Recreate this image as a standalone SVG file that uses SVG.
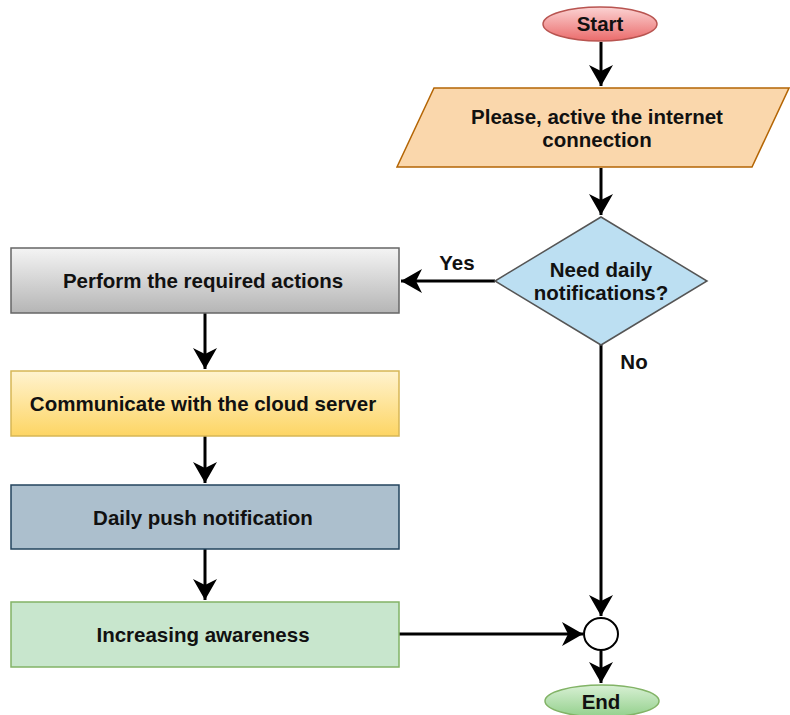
<svg xmlns="http://www.w3.org/2000/svg" width="790" height="715" viewBox="0 0 790 715">
<style>
text{font-family:"Liberation Sans",Arial,sans-serif;font-weight:bold;font-size:20.5px;fill:#111;text-anchor:middle}
.c{fill:none;stroke:#000;stroke-width:3}
</style>
<defs>
<marker id="ah" markerWidth="8" markerHeight="8" refX="7" refY="4" orient="auto" markerUnits="strokeWidth">
<path d="M0,0 L7,4 L0,8 L2,4 Z" fill="#000"/>
</marker>
<linearGradient id="gGray" x1="0" y1="0" x2="0" y2="1"><stop offset="0" stop-color="#f4f4f4"/><stop offset="1" stop-color="#b5b5b5"/></linearGradient>
<linearGradient id="gYel" x1="0" y1="0" x2="0" y2="1"><stop offset="0" stop-color="#fff3cf"/><stop offset="1" stop-color="#fdd564"/></linearGradient>
<linearGradient id="gRed" x1="0" y1="0" x2="0" y2="1"><stop offset="0" stop-color="#fbd3d3"/><stop offset="1" stop-color="#ea6b6b"/></linearGradient>
<linearGradient id="gGrn" x1="0" y1="0" x2="0" y2="1"><stop offset="0" stop-color="#d8f0d4"/><stop offset="1" stop-color="#93d08c"/></linearGradient>
</defs>
<rect width="790" height="715" fill="#fff"/>
<g id="connectors">
<path class="c" d="M601,42 V86" marker-end="url(#ah)"/>
<path class="c" d="M601,168 V215" marker-end="url(#ah)"/>
<path class="c" d="M495,281 H401" marker-end="url(#ah)"/>
<path class="c" d="M601,345 V616" marker-end="url(#ah)"/>
<path class="c" d="M205,313 V369" marker-end="url(#ah)"/>
<path class="c" d="M205,436 V483" marker-end="url(#ah)"/>
<path class="c" d="M205,549 V600" marker-end="url(#ah)"/>
<path class="c" d="M399,634 H583" marker-end="url(#ah)"/>
<path class="c" d="M601,651 V683" marker-end="url(#ah)"/>
<text x="457" y="270">Yes</text>
<text x="634" y="369">No</text>
</g>
<g id="start">
<ellipse cx="600" cy="24" rx="57" ry="17" fill="url(#gRed)" stroke="#b85450" stroke-width="1.5"/>
<text x="600" y="31">Start</text>
</g>
<g id="internet">
<polygon points="434,88 789,88 752,167 397,167" fill="#fad7ac" stroke="#b46504" stroke-width="1.5"/>
<text x="597" y="124">Please, active the internet</text>
<text x="597" y="147">connection</text>
</g>
<g id="decision">
<polygon points="601,217 707,281 601,345 495,281" fill="#bcdff2" stroke="#555" stroke-width="1.5"/>
<text x="601" y="277">Need daily</text>
<text x="601" y="300">notifications?</text>
</g>
<g id="perform">
<rect x="11" y="248" width="388" height="65" fill="url(#gGray)" stroke="#666" stroke-width="1.5"/>
<text x="203" y="288">Perform the required actions</text>
</g>
<g id="communicate">
<rect x="11" y="371" width="388" height="65" fill="url(#gYel)" stroke="#d6b656" stroke-width="1.5"/>
<text x="203" y="411">Communicate with the cloud server</text>
</g>
<g id="push">
<rect x="11" y="485" width="388" height="64" fill="#acbfcd" stroke="#23445d" stroke-width="1.5"/>
<text x="203" y="525">Daily push notification</text>
</g>
<g id="awareness">
<rect x="11" y="602" width="388" height="65" fill="#c8e6cd" stroke="#82b366" stroke-width="1.5"/>
<text x="203" y="642">Increasing awareness</text>
</g>
<g id="merge">
<ellipse cx="601" cy="634" rx="17" ry="16" fill="#fff" stroke="#000" stroke-width="2"/>
</g>
<g id="end">
<ellipse cx="602" cy="701" rx="57" ry="16" fill="url(#gGrn)" stroke="#82b366" stroke-width="1.5"/>
<text x="601" y="709">End</text>
</g>
</svg>
